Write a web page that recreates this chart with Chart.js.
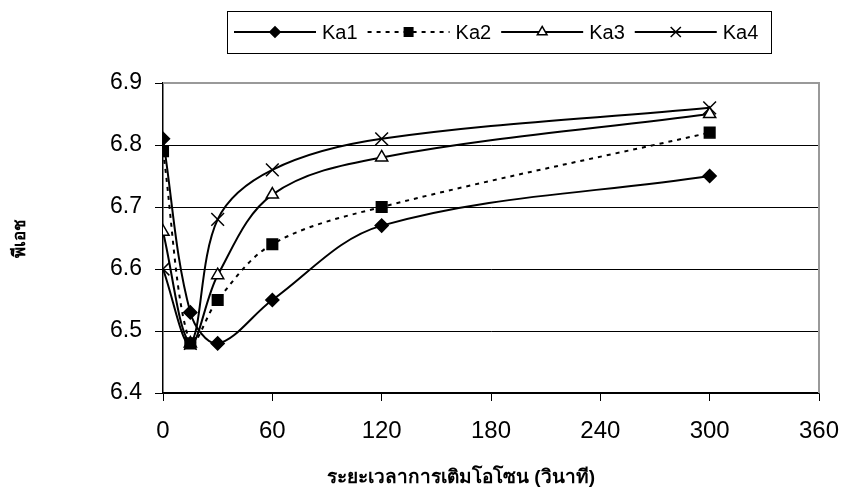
<!DOCTYPE html>
<html>
<head>
<meta charset="utf-8">
<script src="https://cdn.jsdelivr.net/npm/chart.js@4"></script>
<style>
  html, body { margin: 0; padding: 0; background: #fff; }
  #wrap { width: 844px; height: 500px; }
</style>
</head>
<body>
<div id="wrap"><canvas id="ph"></canvas></div>
<script>
    // data
    var seconds = [0, 15, 30, 60, 120, 300];
    var seriesNames = ['Ka1', 'Ka2', 'Ka3', 'Ka4'];
    var ka1 = [6.81, 6.53, 6.48, 6.55, 6.67, 6.75];
    var ka2 = [6.79, 6.48, 6.55, 6.64, 6.70, 6.82];
    var ka3 = [6.66, 6.48, 6.59, 6.72, 6.78, 6.85];
    var ka4 = [6.60, 6.48, 6.68, 6.76, 6.81, 6.86];
    var xTitle = 'ระยะเวลาการเติมโอโซน (วินาที)';
    var yTitle = 'พีเอช';

    var font = '"Liberation Sans", Arial, sans-serif';

    function pts(vals) {
        return vals.map(function (v, i) { return { x: seconds[i], y: v }; });
    }

    var styles = [
        { pointStyle: 'rectRot', radius: 6.5, fill: '#000', dash: [] },
        { pointStyle: 'rect', radius: 7.5, fill: '#000', dash: [4, 5] },
        { pointStyle: 'triangle', radius: 7, fill: '#fff', dash: [] },
        { pointStyle: 'crossRot', radius: 9, fill: '#000', dash: [] }
    ];
    var allValues = [ka1, ka2, ka3, ka4];

    var datasets = allValues.map(function (vals, i) {
        var s = styles[i];
        return {
            label: seriesNames[i],
            data: pts(vals),
            borderColor: '#000',
            borderWidth: 2,
            borderDash: s.dash,
            tension: 0.35,
            pointStyle: s.pointStyle,
            pointRadius: s.radius,
            pointHoverRadius: s.radius,
            pointBackgroundColor: s.fill,
            pointBorderColor: '#000',
            pointBorderWidth: 1.5,
            fill: false
        };
    });

    // white page, gray plot frame on top/right, boxed legend, x title
    var decor = {
        id: 'decor',
        beforeDraw: function (chart) {
            var c = chart.ctx;
            c.save();
            c.fillStyle = '#fff';
            c.fillRect(0, 0, chart.width, chart.height);
            c.restore();
        },
        beforeDatasetsDraw: function (chart) {
            var a = chart.chartArea, c = chart.ctx;
            c.save();
            c.strokeStyle = '#999';
            c.lineWidth = 2;
            c.beginPath();
            c.moveTo(a.left, a.top);
            c.lineTo(a.right, a.top);
            c.lineTo(a.right, a.bottom);
            c.stroke();
            c.restore();
        },
        afterDraw: function (chart) {
            var c = chart.ctx;
            c.save();
            // legend box
            c.strokeStyle = '#000';
            c.lineWidth = 1;
            c.strokeRect(227.5, 11.5, 544, 42);
            c.font = '20px ' + font;
            c.textBaseline = 'middle';
            c.fillStyle = '#000';
            var x = 234, y = 32;
            chart.data.datasets.forEach(function (ds, i) {
                c.save();
                c.strokeStyle = '#000';
                c.lineWidth = 1.8;
                c.setLineDash(ds.borderDash);
                c.beginPath();
                c.moveTo(x, y);
                c.lineTo(x + 82, y);
                c.stroke();
                c.restore();
                c.save();
                c.fillStyle = ds.pointBackgroundColor;
                c.strokeStyle = '#000';
                c.lineWidth = 1.5;
                Chart.helpers.drawPoint(c, {
                    pointStyle: ds.pointStyle,
                    radius: ds.pointRadius * 0.8,
                    borderWidth: 1.5,
                    rotation: 0
                }, x + 41, y);
                c.restore();
                c.fillText(ds.label, x + 88, y + 1);
                x += 88 + c.measureText(ds.label).width + 10;
            });
            // x axis title
            c.font = 'bold 19px ' + font;
            c.textAlign = 'center';
            c.textBaseline = 'middle';
            c.fillText(xTitle, 461, 478);
            c.restore();
        }
    };

    var ph = new Chart(document.getElementById('ph').getContext('2d'), {
        type: 'line',
        data: { datasets: datasets },
        options: {
            responsive: true,
            maintainAspectRatio: false,
            animation: false,
            layout: { padding: { top: 83, right: 25, left: 0, bottom: 0 } },
            plugins: {
                legend: { display: false },
                tooltip: { enabled: false }
            },
            scales: {
                x: {
                    type: 'linear',
                    min: 0,
                    max: 360,
                    afterFit: function (s) {
                        s.height = 107;
                        s.paddingLeft = 0;
                        s.paddingRight = 0;
                    },
                    ticks: {
                        stepSize: 60,
                        color: '#000',
                        padding: 16,
                        font: { family: font, size: 24 }
                    },
                    grid: {
                        drawOnChartArea: false,
                        tickLength: 8,
                        tickColor: '#000',
                        tickWidth: 1
                    },
                    border: { color: '#000', width: 1.5 }
                },
                y: {
                    min: 6.4,
                    max: 6.9,
                    afterFit: function (s) {
                        s.width = 163;
                        s.paddingTop = 0;
                        s.paddingBottom = 0;
                    },
                    ticks: {
                        stepSize: 0.1,
                        color: '#000',
                        padding: 13,
                        font: { family: font, size: 23 },
                        callback: function (v) { return Number(v).toFixed(1); }
                    },
                    grid: {
                        color: function (ctx) {
                            return ctx.tick && Math.abs(ctx.tick.value - 6.9) < 1e-6 ? 'rgba(0,0,0,0)' : '#000';
                        },
                        lineWidth: 1,
                        tickLength: 8,
                        tickColor: '#000'
                    },
                    border: { color: '#000', width: 1.5 },
                    title: {
                        display: true,
                        text: yTitle,
                        color: '#000',
                        padding: { top: 10, bottom: 0 },
                        font: { family: font, size: 17, weight: 'bold' }
                    }
                }
            }
        },
        plugins: [decor]
    });
</script>
</body>
</html>
